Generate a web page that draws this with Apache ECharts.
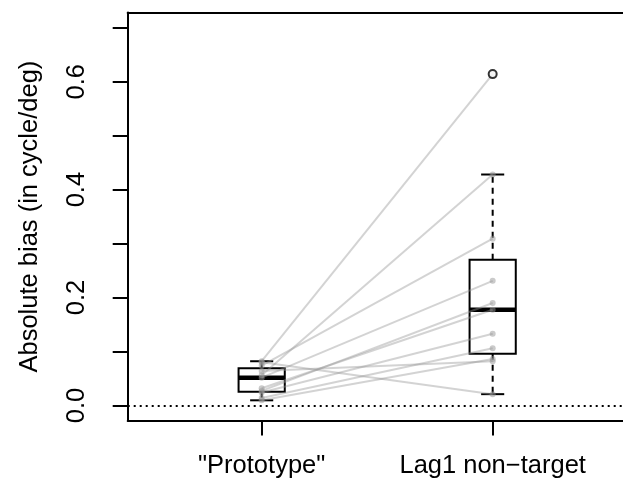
<!DOCTYPE html>
<html><head><meta charset="utf-8">
<script src="https://cdn.jsdelivr.net/npm/echarts@6/dist/echarts.min.js"></script>
<style>html,body{margin:0;padding:0;background:#fff}#c{width:623px;height:482px}</style>
</head><body><div id="c"></div>
<script>
const categories = ['"Prototype"', 'Lag1 non\u2212target'];
const prototypeValues = [0.082, 0.056, 0.074, 0.0515, 0.027, 0.032, 0.024, 0.014, 0.0096, 0.064, 0.080];
const lag1Values = [0.614, 0.428, 0.309, 0.231, 0.190, 0.1775, 0.133, 0.106, 0.086, 0.082, 0.021];
const yTickValues = [0, 0.1, 0.2, 0.3, 0.4, 0.5, 0.6, 0.7];
const yLabelValues = [0, 0.2, 0.4, 0.6];
const yTitle = 'Absolute bias (in cycle/deg)';

function fivenum(arr) {
  const x = arr.slice().sort((a, b) => a - b);
  const n = x.length;
  const n4 = Math.floor((n + 3) / 2) / 2;
  const d = [1, n4, (n + 1) / 2, n + 1 - n4, n];
  return d.map(v => 0.5 * (x[Math.floor(v) - 1] + x[Math.ceil(v) - 1]));
}
function boxStats(arr) {
  const f = fivenum(arr);
  const iqr = f[3] - f[1];
  const lo = f[1] - 1.5 * iqr, hi = f[3] + 1.5 * iqr;
  const inside = arr.filter(v => v >= lo && v <= hi);
  return { min: Math.min(...inside), q1: f[1], med: f[2], q3: f[3], max: Math.max(...inside),
           out: arr.filter(v => v < lo || v > hi) };
}
const groups = [prototypeValues, lag1Values];
const stats = groups.map(boxStats);
const boxData = stats.map((s, i) => [i + 1, s.min, s.q1, s.med, s.q3, s.max]);
const outlierData = [];
stats.forEach((s, i) => s.out.forEach(v => outlierData.push([i + 1, v])));

const font = 'Liberation Sans, Arial, Helvetica, sans-serif';
const fs = 25.5;
const grey = 'rgba(150,150,150,0.42)';
const greyPt = 'rgba(150,150,150,0.5)';
const X_MIN = 0.42, X_MAX = 2.5642;

const pairSeries = prototypeValues.map((p, i) => ({
  type: 'line',
  data: [[1, p], [2, lag1Values[i]]],
  symbol: 'circle',
  symbolSize: 6,
  showSymbol: true,
  itemStyle: { color: greyPt },
  lineStyle: { color: grey, width: 2 },
  silent: true,
  z: 3
}));

const chart = echarts.init(document.getElementById('c'), null, { renderer: 'canvas' });
chart.setOption({
  animation: false,
  backgroundColor: '#fff',
  textStyle: { fontFamily: font },
  grid: { left: 127.7, top: 12.6, width: 495.3, height: 408, show: false },
  xAxis: [{
    type: 'value', min: X_MIN, max: X_MAX, position: 'bottom',
    splitLine: { show: false },
    axisLine: { show: true, onZero: false, lineStyle: { color: '#000', width: 2 } },
    axisTick: { show: true, length: 15, customValues: [1, 2], lineStyle: { color: '#000', width: 2 } },
    axisLabel: { customValues: [1, 2], formatter: v => categories[Math.round(v) - 1],
                 fontSize: fs, color: '#000', fontFamily: font, margin: 32 }
  }, {
    type: 'value', min: X_MIN, max: X_MAX, position: 'top',
    splitLine: { show: false },
    axisLine: { show: true, onZero: false, lineStyle: { color: '#000', width: 2 } },
    axisTick: { show: false }, axisLabel: { show: false }
  }],
  yAxis: {
    type: 'value', min: -0.028, max: 0.728,
    splitLine: { show: false },
    axisLine: { show: true, onZero: false, lineStyle: { color: '#000', width: 2 } },
    axisTick: { show: true, length: 15, customValues: yTickValues, lineStyle: { color: '#000', width: 2 } },
    axisLabel: { customValues: yLabelValues, formatter: v => v.toFixed(1), rotate: 90,
                 fontSize: fs, color: '#000', fontFamily: font, margin: 38 },
    name: yTitle, nameLocation: 'middle', nameGap: 85,
    nameTextStyle: { fontSize: fs, color: '#000', fontFamily: font }
  },
  series: [
    {
      type: 'custom',
      data: boxData,
      encode: { x: 0, y: [1, 2, 3, 4, 5] },
      z: 2,
      silent: true,
      markLine: {
        silent: true, symbol: 'none', label: { show: false },
        lineStyle: { color: '#000', type: [2, 4], width: 2 },
        data: [{ yAxis: 0 }]
      },
      renderItem: function (params, api) {
        const x = api.value(0);
        const mn = api.value(1), q1 = api.value(2), md = api.value(3), q3 = api.value(4), mx = api.value(5);
        const hw = 0.1, sw = 0.05;
        const tl = api.coord([x - hw, q3]);
        const br = api.coord([x + hw, q1]);
        const c = (a, b) => api.coord([a, b]);
        const blk = { stroke: '#000', lineWidth: 2 };
        const dash = { stroke: '#000', lineWidth: 2, lineDash: [6, 5] };
        const line = (p1, p2, style) => ({ type: 'line', shape: { x1: p1[0], y1: p1[1], x2: p2[0], y2: p2[1] }, style: style });
        return {
          type: 'group',
          children: [
            line(c(x, q3), c(x, mx), dash),
            line(c(x, q1), c(x, mn), dash),
            line(c(x - sw, mx), c(x + sw, mx), blk),
            line(c(x - sw, mn), c(x + sw, mn), blk),
            { type: 'rect', shape: { x: tl[0], y: tl[1], width: br[0] - tl[0], height: br[1] - tl[1] },
              style: { fill: 'none', stroke: '#000', lineWidth: 2 } },
            line(c(x - hw, md), c(x + hw, md), { stroke: '#000', lineWidth: 4.5 })
          ]
        };
      }
    },
    ...pairSeries,
    {
      type: 'scatter',
      data: outlierData,
      symbol: 'circle',
      symbolSize: 8,
      itemStyle: { color: '#fff', borderColor: '#000', borderWidth: 2 },
      silent: true,
      z: 4
    }
  ]
});
</script>
</body></html>
